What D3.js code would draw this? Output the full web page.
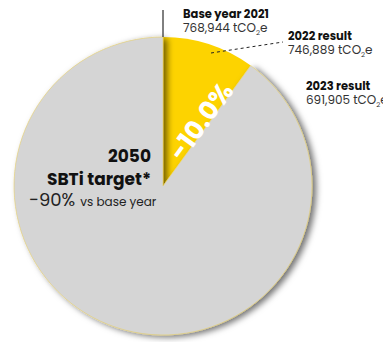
<!DOCTYPE html>
<html lang="en">
<head>
  <meta charset="UTF-8">
  <title>Emissions vs base year</title>
  <script src="https://cdn.jsdelivr.net/npm/d3@7"></script>
  <style>
    html, body { margin: 0; padding: 0; background: #fff; }
    #chart { width: 383px; height: 342px; }
    text { font-family: Poppins, Inter, "Open Sans", sans-serif; }
  </style>
</head>
<body>
  <div id="chart"></div>

  <script>
    // Data
    const years = ["Base year 2021", "2022 result", "2023 result"];
    const emissions = [768944, 746889, 691905];
    const sliceNames = ["Reduction 2021-2023", "Remaining"];
    const target = { year: "2050", name: "SBTi target*", cut: "−90%", note: "vs base year" };

    const width = 383, height = 342;
    const cx = 163, cy = 186, radius = 149;

    const svg = d3.select('#chart')
      .append('svg')
      .attr('width', width)
      .attr('height', height);

    // drop shadow used on the grey slice
    const filter = svg.append('defs').append('filter')
      .attr('id', 'shadow')
      .attr('x', '-20%').attr('y', '-20%')
      .attr('width', '140%').attr('height', '140%');
    filter.append('feDropShadow')
      .attr('dx', 4).attr('dy', 2)
      .attr('stdDeviation', 3.2)
      .attr('flood-color', '#000')
      .attr('flood-opacity', 0.55);

    // reduction slice first, then what is left
    const base = emissions[0], latest = emissions[2];
    const sliceValues = [base - latest, latest];

    const pie = d3.pie().sort(null).value(d => d);
    const arc = d3.arc().innerRadius(0).outerRadius(radius);
    const arcs = pie(sliceValues);

    const g = svg.append('g').attr('transform', `translate(${cx},${cy})`);

    g.append('path')
      .attr('d', arc(arcs[0]))
      .attr('fill', '#fdd300');

    g.append('path')
      .attr('d', arc(arcs[1]))
      .attr('fill', '#d5d5d5')
      .attr('stroke', '#e6cf6a')
      .attr('stroke-width', 0.6)
      .attr('filter', 'url(#shadow)');

    // percentage label along the slice
    const pct = (latest - base) / base * 100;
    const mid = (arcs[0].startAngle + arcs[0].endAngle) / 2;
    const lr = radius * 0.52;
    g.append('text')
      .attr('transform', `translate(${Math.sin(mid) * lr + 14},${-Math.cos(mid) * lr + 9}) rotate(-54)`)
      .attr('text-anchor', 'middle')
      .attr('dy', '0.35em')
      .attr('font-size', 26)
      .attr('font-weight', 700)
      .attr('fill', '#fff')
      .text(d3.format('.1f')(pct).replace('−', '-') + '%');

    // base year leader
    svg.append('line')
      .attr('x1', cx).attr('x2', cx)
      .attr('y1', 10).attr('y2', cy - radius)
      .attr('stroke', '#000').attr('stroke-width', 1);

    // 2022 dashed leader
    svg.append('line')
      .attr('x1', 211).attr('y1', 53)
      .attr('x2', 283).attr('y2', 42)
      .attr('stroke', '#222').attr('stroke-width', 1)
      .attr('stroke-dasharray', '3,3');

    const labelPos = [
      { x: 183, y: 18 },
      { x: 288, y: 40 },
      { x: 306, y: 90 }
    ];
    const fmt = d3.format(',');

    years.forEach((yr, i) => {
      const p = labelPos[i];
      svg.append('text')
        .attr('x', p.x).attr('y', p.y)
        .attr('font-size', 11.5)
        .attr('font-weight', 700)
        .attr('fill', '#111')
        .text(yr);
      const t = svg.append('text')
        .attr('x', p.x).attr('y', p.y + 14)
        .attr('font-size', 12)
        .attr('fill', '#333');
      t.append('tspan').text(fmt(emissions[i]) + ' tCO');
      t.append('tspan').attr('font-size', 7).attr('dy', 3).text('2');
      t.append('tspan').attr('dy', -3).text('e');
    });

    // target block
    svg.append('text')
      .attr('x', 151).attr('y', 162)
      .attr('text-anchor', 'end')
      .attr('font-size', 17)
      .attr('font-weight', 700)
      .attr('fill', '#111')
      .text(target.year);
    svg.append('text')
      .attr('x', 151).attr('y', 185)
      .attr('text-anchor', 'end')
      .attr('font-size', 17)
      .attr('font-weight', 700)
      .attr('fill', '#111')
      .text(target.name);
    const tt = svg.append('text')
      .attr('x', 29).attr('y', 206)
      .attr('fill', '#222');
    tt.append('tspan').attr('font-size', 18).text(target.cut);
    tt.append('tspan').attr('font-size', 12).attr('dx', 5).text(target.note);
  </script>
</body>
</html>
